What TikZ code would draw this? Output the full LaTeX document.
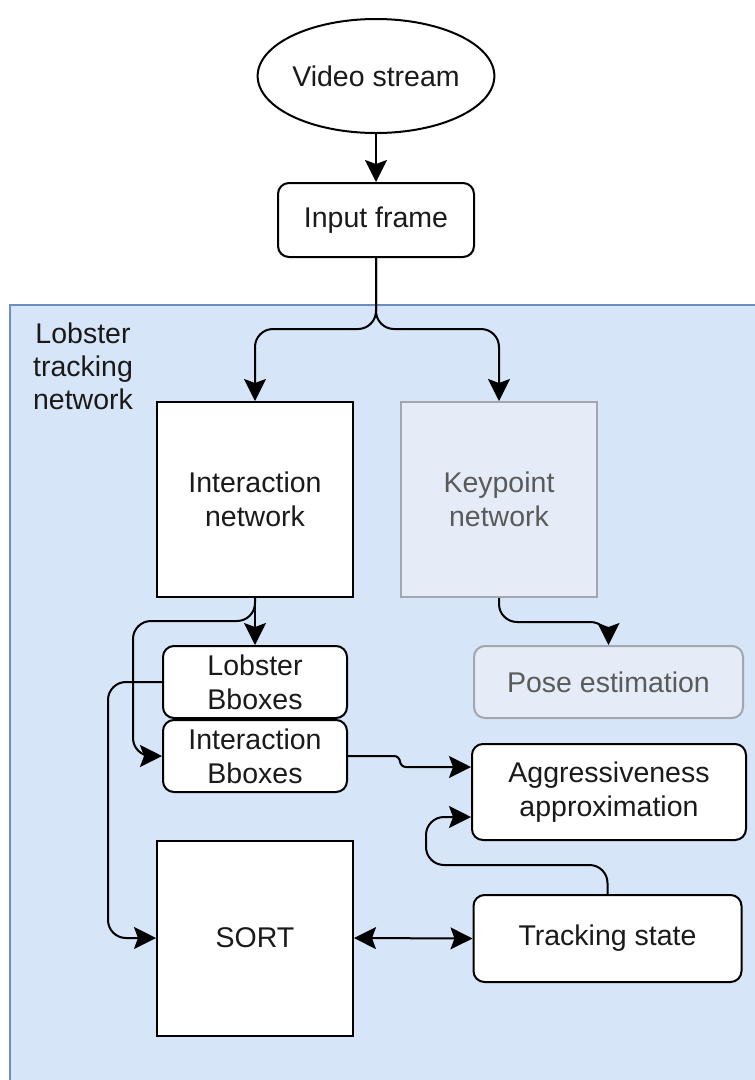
\documentclass[tikz,border=0pt]{standalone}
\usepackage{fontspec}
\setmainfont{Liberation Sans}
\usetikzlibrary{arrows.meta,calc,shapes.geometric}

\definecolor{groupfill}{HTML}{D6E5F8}
\definecolor{groupline}{HTML}{6C8EBF}
\definecolor{fadefill}{HTML}{E5ECF8}
\definecolor{fadeline}{HTML}{A3A7AD}
\definecolor{fadetext}{HTML}{5A5A5A}
\definecolor{inktext}{HTML}{1A1A1A}

\tikzset{
  base/.style={draw=black, line width=2pt, fill=white, text=inktext,
    align=center, inner sep=0pt,
    font=\fontsize{28.5}{34}\selectfont},
  plainbox/.style={base, rectangle, minimum width=196pt, minimum height=195pt},
  roundbox/.style={base, rectangle, rounded corners=11pt},
  fadedbox/.style={draw=fadeline, fill=fadefill, text=fadetext},
  edge/.style={line width=2pt, draw=black, rounded corners=18pt,
    -{Stealth[length=22pt,width=22pt,inset=4pt]}},
  twoway/.style={line width=2pt, draw=black,
    {Stealth[length=22pt,width=22pt,inset=4pt]}-{Stealth[length=22pt,width=22pt,inset=4pt]}},
}

\begin{document}
\begin{tikzpicture}[x=1pt,y=-1pt]
  \useasboundingbox (0,0) rectangle (755,1080);

  % group container
  \fill[groupfill] (10,305) rectangle (755,1080);
  \draw[groupline, line width=2pt] (10,1080) -- (10,305) -- (755,305);
  \node[text=inktext, align=center, font=\fontsize{28.5}{33}\selectfont]
    (grp) at (83,366) {Lobster\\tracking\\network};

  % nodes
  \node[base, ellipse, minimum width=196pt, minimum height=114pt]
    (vs) at (376,76) {Video stream};
  \node[roundbox, minimum width=196pt, minimum height=74pt]
    (in) at (376,220) {Input frame};
  \node[plainbox] (intnet) at (255,499.5) {Interaction\\network};
  \node[plainbox, fadedbox] (kp) at (499,499.5) {Keypoint\\network};
  \node[roundbox, minimum width=184pt, minimum height=72pt]
    (lb) at (255,682) {Lobster\\Bboxes};
  \node[roundbox, minimum width=184pt, minimum height=72pt]
    (ib) at (255,756) {Interaction\\Bboxes};
  \node[roundbox, fadedbox, minimum width=269pt, minimum height=72pt]
    (pose) at (608.5,682) {Pose estimation};
  \node[roundbox, minimum width=274pt, minimum height=96pt]
    (agg) at (609,792) {Aggressiveness\\approximation};
  \node[plainbox] (sort) at (255,938) {SORT};
  \node[roundbox, minimum width=268pt, minimum height=87pt]
    (ts) at (607.5,938.5) {Tracking state};

  % connectors
  \draw[edge] (vs.south) -- (in.north);
  \draw[edge] (in.south) -- (376,329) -| (intnet.north);
  \draw[edge] (in.south) -- (376,329) -| (kp.north);
  \draw[edge] (intnet.south) -- (lb.north);
  \draw[edge] (intnet.south) -- (255,621) -| (133,690) |- (ib.west);
  \draw[edge] (kp.south) -- (499,622) -| (pose.north);
  \draw[edge] (lb.west) -| (108,800) |- (sort.west);
  \draw[edge, rounded corners=6pt] (ib.east) -- (400,756) -- (400,767)
    -- ($(agg.west)+(0,-25)$);
  \draw[edge] (ts.north) -- (607.5,865) -| ($(agg.west)+(-45,25)$)
    -- ($(agg.west)+(0,25)$);
  \draw[twoway] (sort.east) -- (ts.west);
\end{tikzpicture}
\end{document}
